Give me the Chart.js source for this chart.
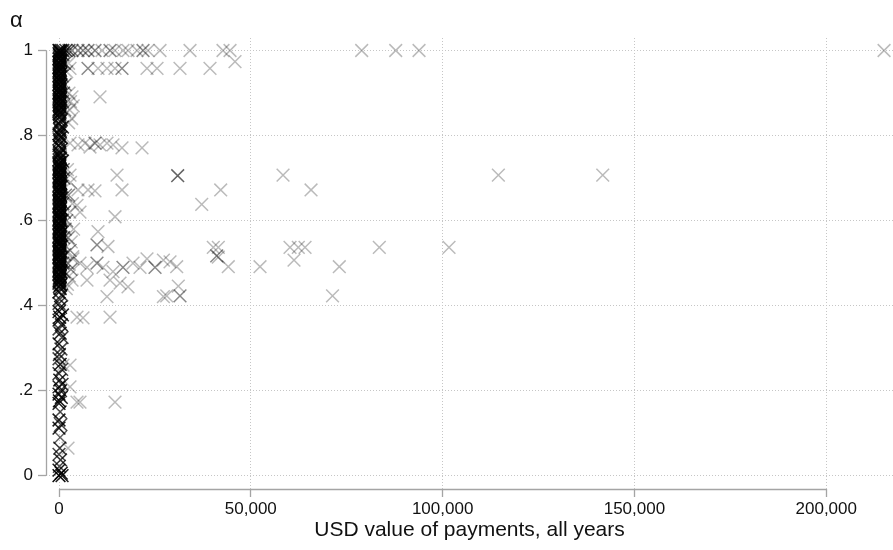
<!DOCTYPE html>
<html>
<head>
<meta charset="utf-8">
<script src="https://cdn.jsdelivr.net/npm/chart.js@4.4.1/dist/chart.umd.min.js"></script>
<style>
  html, body { margin: 0; padding: 0; background: #ffffff; }
  #wrap { width: 893px; height: 550px; }
</style>
</head>
<body>
<div id="wrap"><canvas id="chart" width="893" height="550"></canvas></div>
<script>
// Payments close to zero: USD value, alpha, and number of payments sharing that spot.
// One line per band of alpha.
const nearZeroPay = [
  0, 200, 100, 300, 0, 400, 100, 200, 0, 300, 100, 500, 0, 200, 100, 400, 0, 300, 100, 200, 0, 400, 100, 300, 0, 200, 100, 500, 0, 300, 100,
  300, 0, 200, 100, 400, 0, 300, 100, 200, 0, 500, 100, 300, 0, 200, 100, 400, 0, 300, 100, 200, 0, 400, 100, 300, 0, 200, 100, 0, 200,
  1800, 2600, 1000, 500,
  2600, 3000, 2800, 3300, 2500, 3700, 2000, 2500,
  200, 600, 0, 900, 300, 0, 500, 100, 0, 700, 200, 0, 400, 900,
  100, 300, 0, 200, 400, 100, 0, 300, 200, 0, 100, 300, 0,
  0, 200, 100, 300, 0, 400, 100, 200, 0, 300, 100, 500, 0, 200, 100, 400, 0, 300, 100, 200, 0, 400, 100, 300, 0, 200, 100, 500, 0, 300, 100, 200, 0, 400, 100, 300, 0, 200, 100, 500, 0, 300, 100, 200, 0, 400, 100, 300, 0, 200, 100, 500, 0, 300, 100, 200, 0, 400, 100,
  300, 0, 200, 100, 400, 0, 300, 100, 200, 0, 500, 100, 300, 0, 200, 100, 400, 0, 300, 100, 200, 0, 400, 100, 300, 0, 200, 100, 500, 0, 300, 100, 200, 0, 400, 100, 300, 0, 200, 100, 500, 0, 300, 100, 200, 0, 400, 100, 300, 0, 200, 100, 500, 0, 300, 100, 200, 0, 400,
  1000, 1400, 800, 1600, 1200, 900, 1500, 1100, 1300, 800, 1700, 1000, 1400, 900, 1600, 1200, 800, 1500, 1000, 1300,
  2200, 3000, 2500, 3500, 2800, 2000, 3800, 2400, 3200, 2900, 3600, 2300, 3100, 2700, 3400, 2200, 1900,
  300, 0, 700, 200, 0, 400, 0, 900, 200, 0, 600, 0, 300, 800, 0, 500, 100, 0,
  300, 700, 0, 200, 800, 0, 400, 0, 600, 100, 0, 300, 0, 500, 0, 300, 200, 0,
  400, 100, 0, 600, 0, 800
];
const nearZeroAlpha = [
  1, .995, .99, .985, .98, .975, .97, .965, .96, .955, .95, .945, .94, .935, .93, .925, .92, .915, .91, .905, .9, .895, .89, .885, .88, .875, .87, .865, .86, .855, .85,
  .9975, .9925, .9875, .9825, .9775, .9725, .9675, .9625, .9575, .9525, .9475, .9425, .9375, .9325, .9275, .9225, .9175, .9125, .9075, .9025, .8975, .8925, .8875, .8825, .8775, .8725, .8675, .8625, .8575, .8525,
  1, 1, 1, 1,
  .9, .88, .86, .84, .83, .87, .95, .97,
  .845, .837, .828, .82, .812, .804, .796, .787, .777, .768, .76, .754, .746, .74,
  .842, .833, .824, .816, .808, .8, .792, .782, .772, .764, .757, .75, .743,
  .735, .73, .725, .72, .715, .71, .705, .7, .695, .69, .685, .68, .675, .67, .665, .66, .655, .65, .645, .64, .635, .63, .625, .62, .615, .61, .605, .6, .595, .59, .585, .58, .575, .57, .565, .56, .555, .55, .545, .54, .535, .53, .525, .52, .515, .51, .505, .5, .495, .49, .485, .48, .475, .47, .465, .46, .455, .45, .445,
  .7375, .7325, .7275, .7225, .7175, .7125, .7075, .7025, .6975, .6925, .6875, .6825, .6775, .6725, .6675, .6625, .6575, .6525, .6475, .6425, .6375, .6325, .6275, .6225, .6175, .6125, .6075, .6025, .5975, .5925, .5875, .5825, .5775, .5725, .5675, .5625, .5575, .5525, .5475, .5425, .5375, .5325, .5275, .5225, .5175, .5125, .5075, .5025, .4975, .4925, .4875, .4825, .4775, .4725, .4675, .4625, .4575, .4525, .4475,
  .99, .97, .94, .92, .9, .88, .86, .72, .7, .68, .66, .64, .62, .6, .58, .56, .54, .52, .5, .48,
  .72, .69, .66, .64, .62, .6, .58, .56, .55, .53, .515, .5, .485, .47, .46, .45, .44,
  .44, .432, .425, .415, .405, .396, .386, .378, .373, .366, .355, .345, .335, .325, .31, .298, .285, .275,
  .262, .25, .24, .225, .215, .209, .2, .192, .184, .176, .17, .15, .131, .12, .112, .09, .065, .05,
  .037, .022, .013, .006, 0, 0
];
const nearZeroCount = [
  12, 7, 7, 6, 7, 6, 7, 6, 7, 6, 7, 6, 6, 7, 6, 6, 7, 6, 6, 7, 6, 6, 7, 6, 6, 6, 6, 6, 5, 5, 5,
  7, 6, 6, 6, 6, 6, 6, 6, 6, 6, 6, 6, 5, 6, 6, 5, 6, 5, 6, 6, 6, 5, 6, 5, 5, 6, 5, 5, 5, 5,
  4, 3, 5, 6,
  1, 1, 1, 1, 1, 1, 1, 1,
  6, 5, 6, 5, 5, 6, 7, 5, 7, 5, 6, 7, 6, 6,
  4, 4, 4, 4, 4, 5, 4, 4, 4, 4, 4, 4, 5,
  6, 6, 6, 6, 6, 6, 7, 6, 6, 6, 6, 6, 7, 6, 6, 6, 6, 6, 6, 6, 6, 6, 6, 6, 7, 6, 6, 7, 6, 6, 6, 6, 7, 6, 6, 6, 7, 6, 6, 7, 7, 7, 7, 7, 7, 6, 7, 8, 7, 7, 6, 7, 6, 6, 6, 6, 6, 5, 5,
  6, 6, 6, 6, 6, 6, 6, 6, 6, 6, 6, 6, 6, 6, 6, 6, 6, 6, 6, 6, 6, 6, 6, 6, 6, 6, 6, 6, 6, 6, 6, 6, 6, 6, 6, 6, 6, 6, 7, 7, 7, 7, 7, 7, 7, 7, 7, 7, 7, 7, 6, 6, 6, 6, 6, 6, 5, 5, 5,
  3, 3, 3, 2, 3, 3, 2, 3, 3, 3, 2, 3, 3, 3, 2, 3, 3, 2, 3, 3,
  1, 1, 2, 1, 1, 2, 1, 2, 1, 2, 1, 2, 2, 1, 1, 1, 1,
  6, 6, 4, 4, 4, 7, 6, 6, 8, 7, 5, 4, 6, 4, 7, 4, 5, 4,
  7, 4, 5, 7, 5, 6, 5, 7, 7, 8, 7, 4, 7, 4, 7, 3, 5, 4,
  5, 4, 7, 7, 12, 7
];

// Larger payments
const largePay = [
  3390, 4950, 6260, 7560, 9380, 11210, 13300, 14600, 16680, 17990, 20330, 21900, 23200, 26330, 34150, 42750, 44580, 78900, 87770, 93850, 215070,
  45880,
  2870, 7560, 10170, 12510, 14600, 16420, 22940, 25550, 31540, 39360,
  3390, 10690,
  2870, 4950, 6780, 8080, 9380, 10690, 12510, 14080, 16420, 21640,
  2870, 15120, 30940, 58400, 114530, 141740,
  4950, 7560, 9380, 16420, 42150, 65700,
  37200, 4690, 5470, 14600, 10170, 12770, 9900,
  3650, 5470, 7300, 9900, 11470, 14080, 16680, 19290, 21120, 22940, 25030, 27210, 28940, 30680,
  40220, 41530, 41110, 41530, 44130, 52400, 60220, 62380, 64130, 61260, 73070, 71300, 83500, 101670,
  28080, 31540, 31100, 27210, 7300, 13300, 15900, 17990, 12510, 4690, 6260, 13300,
  1040, 2870, 2870, 4690, 5470, 14600, 2350
];
const largeAlpha = [
  1, 1, 1, 1, 1, 1, 1, 1, 1, 1, 1, 1, 1, 1, 1, 1, 1, 1, 1, 1, 1,
  .974,
  .958, .958, .958, .958, .958, .958, .958, .958, .958, .958,
  .891, .891,
  .782, .778, .782, .773, .782, .778, .782, .778, .771, .771,
  .707, .707, .7055, .707, .707, .707,
  .672, .672, .67, .672, .672, .672,
  .638, .636, .62, .609, .574, .539, .543,
  .51, .5, .49, .5, .49, .48, .49, .5, .49, .51, .49, .507, .503, .4915,
  .537, .537, .517, .514, .4915, .4915, .537, .537, .537, .507, .4915, .423, .537, .537,
  .423, .423, .446, .421, .46, .46, .453, .444, .421, .373, .371, .373,
  .26, .26, .209, .173, .173, .173, .065
];
const largeCount = [
  2, 2, 2, 2, 2, 1, 2, 1, 1, 1, 1, 2, 1, 1, 1, 1, 1, 1, 1, 1, 1,
  1,
  1, 2, 1, 1, 1, 2, 1, 1, 1, 1,
  1, 1,
  1, 1, 1, 1, 2, 1, 1, 1, 1, 1,
  1, 1, 3, 1, 1, 1,
  1, 1, 1, 1, 1, 1,
  1, 1, 1, 1, 1, 1, 2,
  1, 1, 1, 2, 1, 1, 2, 1, 1, 1, 2, 1, 1, 1,
  1, 1, 2, 1, 1, 1, 1, 1, 1, 1, 1, 1, 1, 1,
  1, 2, 1, 1, 1, 1, 1, 1, 1, 1, 1, 1,
  1, 1, 1, 1, 1, 1, 1
];

// Axis ticks
const xTickValues = [0, 50000, 100000, 150000, 200000];
const xTickLabels = ['0', '50,000', '100,000', '150,000', '200,000'];
const yTickValues = [0, .2, .4, .6, .8, 1];
const yTickLabels = ['0', '.2', '.4', '.6', '.8', '1'];

const xTitle = 'USD value of payments, all years';
const yTitle = '\u03B1';

const markerOpacity = 0.27;
const axisColor = '#a4a4a4';
const gridColor = '#c6c6c6';
const textColor = '#111111';
const sansFont = '"Liberation Sans", Arial, Helvetica, sans-serif';

function toPoints(pay, alpha, count) {
  if (pay.length !== alpha.length || pay.length !== count.length) {
    throw new Error('column lengths differ: ' + [pay.length, alpha.length, count.length].join('/'));
  }
  return pay.map((v, i) => ({ x: v, y: alpha[i], n: count[i] }));
}

// Overlapping payments darken the cross, like stacked translucent markers
function markerColor(ctx) {
  const n = ctx.raw && ctx.raw.n ? ctx.raw.n : 1;
  const a = 1 - Math.pow(1 - markerOpacity, n);
  return 'rgba(0,0,0,' + a.toFixed(3) + ')';
}

const markerStyle = {
  pointStyle: 'crossRot',
  pointRadius: 9,
  pointHoverRadius: 9,
  pointBorderWidth: 1.5,
  pointBorderColor: markerColor,
  pointBackgroundColor: 'rgba(0,0,0,0)',
  showLine: false
};

// Axis lines that run only between the first and last tick
const tickSpanAxes = {
  id: 'tickSpanAxes',
  afterDraw(chart) {
    const { ctx, chartArea } = chart;
    const xs = chart.scales.x, ys = chart.scales.y;
    ctx.save();
    ctx.strokeStyle = axisColor;
    ctx.lineWidth = 1.3;
    const ax = Math.floor(chartArea.left) + 0.5;
    ctx.beginPath();
    ctx.moveTo(ax, ys.getPixelForValue(yTickValues[0]));
    ctx.lineTo(ax, ys.getPixelForValue(yTickValues[yTickValues.length - 1]));
    ctx.stroke();
    const ay = Math.floor(chartArea.bottom) + 0.5;
    ctx.beginPath();
    ctx.moveTo(xs.getPixelForValue(xTickValues[0]), ay);
    ctx.lineTo(xs.getPixelForValue(xTickValues[xTickValues.length - 1]), ay);
    ctx.stroke();
    // y-axis title set horizontally above the axis
    ctx.fillStyle = textColor;
    ctx.font = '22px ' + sansFont;
    ctx.textAlign = 'left';
    ctx.textBaseline = 'alphabetic';
    ctx.fillText(yTitle, 10, 27);
    ctx.restore();
  }
};

new Chart(document.getElementById('chart'), {
  type: 'scatter',
  data: {
    datasets: [
      Object.assign({ label: 'large', data: toPoints(largePay, largeAlpha, largeCount) }, markerStyle),
      Object.assign({ label: 'nearZero', data: toPoints(nearZeroPay, nearZeroAlpha, nearZeroCount) }, markerStyle)
    ]
  },
  options: {
    responsive: false,
    animation: false,
    devicePixelRatio: 1,
    events: [],
    layout: { autoPadding: false, padding: { top: 38, right: 0, left: 0, bottom: 0 } },
    plugins: {
      legend: { display: false },
      tooltip: { enabled: false },
      title: { display: false }
    },
    scales: {
      x: {
        type: 'linear',
        min: -3390,
        max: 217400,
        afterFit(scale) {
          scale.height = 61;
          scale.paddingLeft = 0;
          scale.paddingRight = 0;
        },
        afterBuildTicks(scale) { scale.ticks = xTickValues.map(v => ({ value: v })); },
        border: { display: false, dash: [1, 2] },
        grid: {
          color: gridColor,
          lineWidth: 1,
          tickLength: 8,
          tickColor: axisColor,
          tickWidth: 1.3,
          tickBorderDash: []
        },
        ticks: {
          autoSkip: false,
          maxRotation: 0,
          padding: 2,
          color: textColor,
          font: { family: sansFont, size: 17 },
          callback: (v) => xTickLabels[xTickValues.indexOf(v)]
        },
        title: {
          display: true,
          text: xTitle,
          color: textColor,
          font: { family: sansFont, size: 21 },
          padding: { top: 0, bottom: 7 }
        }
      },
      y: {
        type: 'linear',
        min: -0.0313,
        max: 1.0294,
        afterFit(scale) {
          scale.width = 46;
          scale.paddingTop = 0;
          scale.paddingBottom = 0;
        },
        afterBuildTicks(scale) { scale.ticks = yTickValues.map(v => ({ value: v })); },
        border: { display: false, dash: [1, 2] },
        grid: {
          color: gridColor,
          lineWidth: 1,
          tickLength: 8,
          tickColor: axisColor,
          tickWidth: 1.3,
          tickBorderDash: []
        },
        ticks: {
          autoSkip: false,
          padding: 5,
          color: textColor,
          font: { family: sansFont, size: 17 },
          callback: (v) => yTickLabels[yTickValues.indexOf(v)]
        }
      }
    }
  },
  plugins: [tickSpanAxes]
});
</script>
</body>
</html>
